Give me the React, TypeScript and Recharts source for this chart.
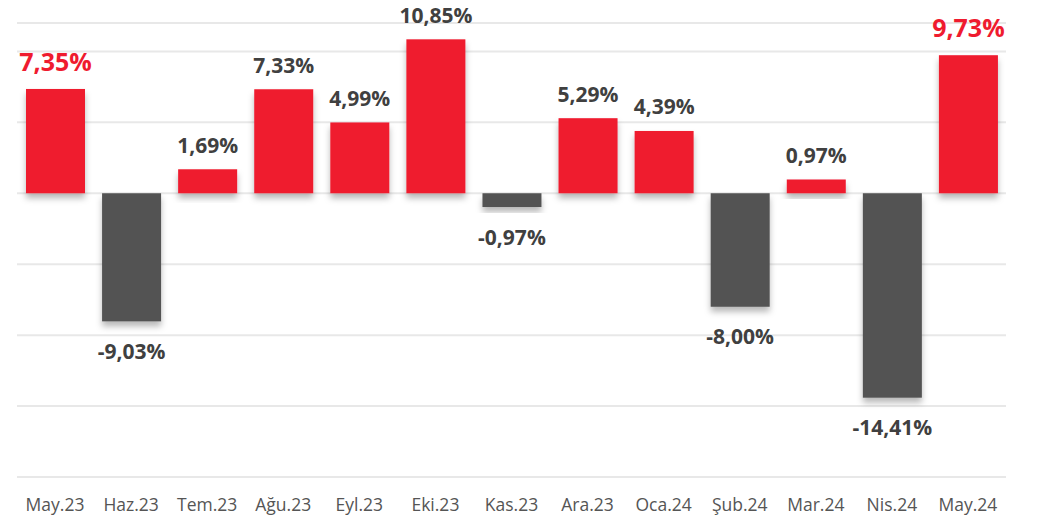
import React from "react";
import { BarChart, Bar, XAxis, YAxis, CartesianGrid, Cell, LabelList } from "recharts";

const categories = ["May.23", "Haz.23", "Tem.23", "Ağu.23", "Eyl.23", "Eki.23", "Kas.23", "Ara.23", "Oca.24", "Şub.24", "Mar.24", "Nis.24", "May.24"];
const values = [7.35, -9.03, 1.69, 7.33, 4.99, 10.85, -0.97, 5.29, 4.39, -8.0, 0.97, -14.41, 9.73];
const highlighted = [0, 12];
const yTicks = [-20, -15, -10, -5, 0, 5, 10];

const data = categories.map((c, i) => ({ name: c, value: values[i] }));

const RED = "#EF1B2F";
const GRAY = "#535353";
const FONT = "'Open Sans', 'Noto Sans', sans-serif";

const fmt = (v: number) => v.toFixed(2).replace(".", ",") + "%";

const BarShape = (props: any) => {
  const { x, y, width, height, fill } = props;
  const top = Math.min(y, y + height);
  const h = Math.abs(height);
  return <rect x={x} y={top} width={width} height={h} fill={fill} filter="url(#barShadow)" />;
};

const ValueLabel = (props: any) => {
  const { x, y, width, height, value, index } = props;
  const top = Math.min(y, y + height);
  const bottom = Math.max(y, y + height);
  const hl = highlighted.includes(index);
  const cx = x + width / 2;
  let ty: number;
  if (value >= 0) ty = hl ? top - 18 : top - 16.5;
  else ty = bottom + 37.5;
  return (
    <text
      x={cx}
      y={ty}
      textAnchor="middle"
      fill={hl ? RED : "#404040"}
      fontSize={hl ? 25 : 21}
      fontWeight={700}
      fontFamily={FONT}
    >
      {fmt(value)}
    </text>
  );
};

export default function App() {
  return (
    <div style={{ marginTop: -8 }}>
      <BarChart
        width={1030}
        height={518}
        data={data}
        margin={{ top: 23, right: 32, bottom: 0, left: 9 }}
        barSize={59}
      >
        <defs>
          <filter id="barShadow" x="-20%" y="-20%" width="140%" height="160%">
            <feDropShadow dx="0" dy="5" stdDeviation="3" floodColor="#000" floodOpacity="0.28" />
          </filter>
        </defs>
        <CartesianGrid vertical={false} stroke="#e8e8e8" strokeWidth={2} />
        <XAxis
          dataKey="name"
          axisLine={false}
          tickLine={false}
          height={41}
          tickMargin={16}
          tick={{ fill: "#555", fontSize: 17.5, fontFamily: FONT }}
          interval={0}
        />
        <YAxis hide domain={[-20, 12]} ticks={yTicks} allowDataOverflow width={0} />
        <Bar dataKey="value" isAnimationActive={false} shape={<BarShape />}>
          {data.map((d, i) => (
            <Cell key={i} fill={d.value >= 0 ? RED : GRAY} />
          ))}
          <LabelList dataKey="value" content={<ValueLabel />} />
        </Bar>
      </BarChart>
    </div>
  );
}
